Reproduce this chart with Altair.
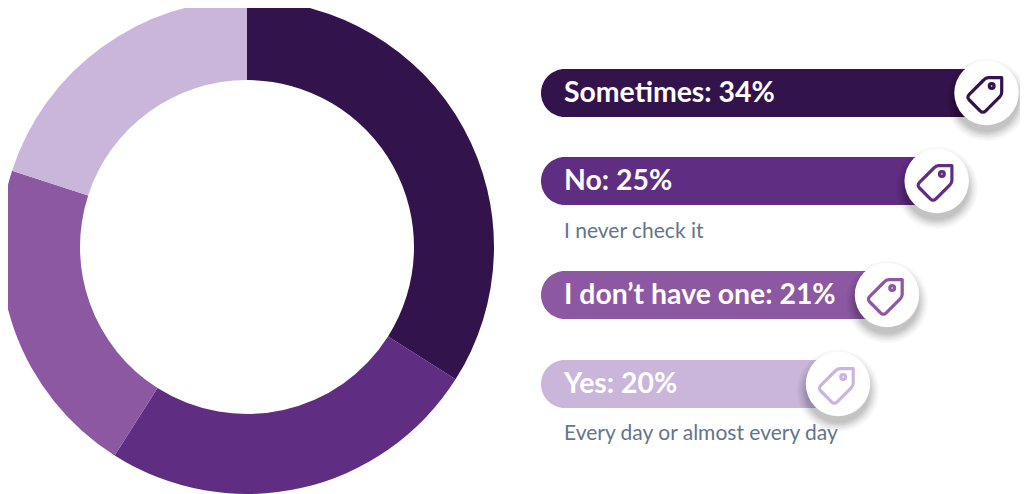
import altair as alt
import math
import pandas as pd

categories = ["Sometimes", "No", "I don’t have one", "Yes"]
values = [34, 25, 21, 20]
notes = ["", "I never check it", "", "Every day or almost every day"]
colors = ["#33134c", "#5f2d82", "#8c58a2", "#c9b6da"]

# layout of the key on the right (chart pixels)
W, H = 1012, 486
key_ends = [978.5, 928.7, 879, 830]
key_rows = [85, 173, 287, 376]
note_rows = [0, 223.5, 0, 426]
KEY_LEFT, TEXT_LEFT = 533, 556
BAR_H = 48
DIAM = 64.5

TAG = ("M 0.86 -0.82 L 0.2 -0.82 Q 0.06 -0.82 -0.04 -0.7 L -0.76 0.02 Q -0.9 0.16 -0.76 0.3 "
       "L -0.22 0.84 Q -0.08 0.98 0.06 0.84 L 0.76 0.14 Q 0.86 0.04 0.86 -0.08 Z "
       "M 0.36 -0.4 m -0.12 0 a 0.12 0.12 0 1 0 0.24 0 a 0.12 0.12 0 1 0 -0.24 0 Z")

df = pd.DataFrame({
    "category": categories, "value": values, "note": notes, "color": colors,
    "order": range(4), "end": key_ends, "row": key_rows, "note_row": note_rows,
})
df["label"] = [f"{c}: {v}%" for c, v in zip(categories, values)]
df["left"] = KEY_LEFT
df["text_left"] = TEXT_LEFT
df["top"] = df["row"] - BAR_H / 2
df["bottom"] = df["row"] + BAR_H / 2
df["icon_x"] = df["end"] - 2
df["icon_y"] = df["row"] + 1
df["shadow_y"] = df["row"] + 7

xs = alt.Scale(domain=[0, W], range=[0, W])
ys = alt.Scale(domain=[0, H], range=[0, H])
color = alt.Color("category:N", scale=alt.Scale(domain=categories, range=colors), legend=None)


def X(f):
    return alt.X(f"{f}:Q", scale=xs, axis=None)


def Y(f):
    return alt.Y(f"{f}:Q", scale=ys, axis=None)


base = alt.Chart(df)

donut = base.mark_arc(radius=247, radius2=167).encode(
    theta=alt.Theta("value:Q", stack=True, scale=alt.Scale(domain=[0, 100], range=[0, 2 * math.pi])),
    order=alt.Order("order:Q"),
    color=color,
    x=alt.value(239),
    y=alt.value(239),
)

bars = base.mark_bar(cornerRadius=24).encode(
    x=X("left"), x2="end:Q", y=Y("top"), y2="bottom:Q", color=color
)

shadows = [
    base.mark_circle(size=(2 * r) ** 2, color="#000000", opacity=0.03).encode(
        x=X("end"), y=Y("shadow_y")
    )
    for r in (41, 39, 37.5, 36, 35, 34, 33, 32)
]

discs = base.mark_circle(size=DIAM ** 2, color="#ffffff", opacity=1).encode(
    x=X("end"), y=Y("row")
)

icons = base.mark_point(
    shape=TAG, size=1600, filled=False, strokeWidth=3.2, opacity=1, strokeJoin="round"
).encode(x=X("icon_x"), y=Y("icon_y"), color=color)

labels = base.mark_text(
    align="left", baseline="middle", font="Lato", fontSize=28.4, fontWeight="bold", color="#ffffff"
).encode(x=X("text_left"), y=Y("row"), text="label:N")

sub = base.transform_filter("datum.note != ''").mark_text(
    align="left", baseline="middle", font="Lato", fontSize=21, color="#64748a"
).encode(x=X("text_left"), y=Y("note_row"), text="note:N")

chart = alt.layer(donut, bars, *shadows, discs, icons, labels, sub).properties(
    width=W, height=H, padding=0, autosize=alt.AutoSizeParams(type="none"), background="#ffffff"
).configure_view(stroke=None)

chart.save("out.html", embed_options={"renderer": "svg", "actions": False})
